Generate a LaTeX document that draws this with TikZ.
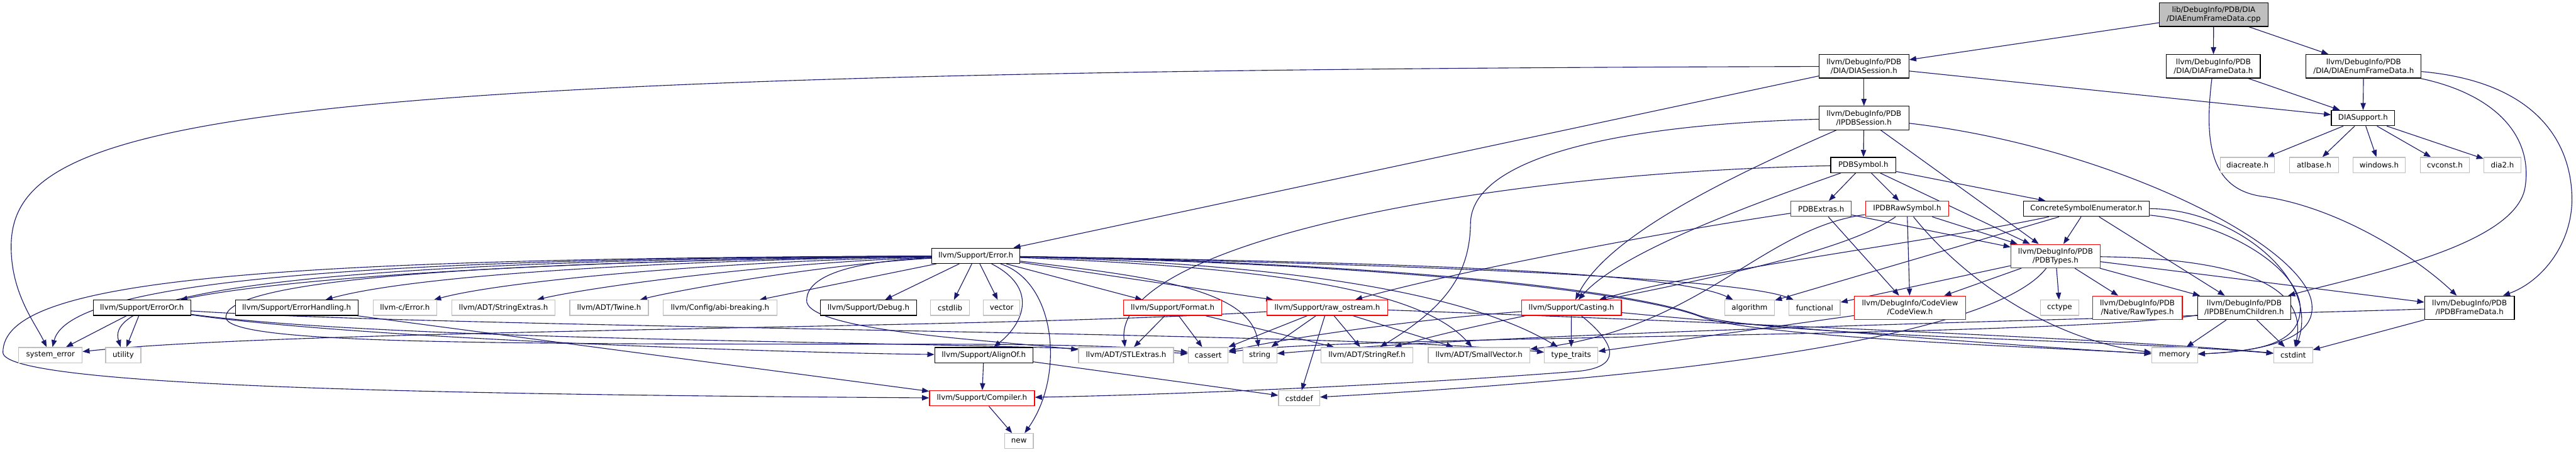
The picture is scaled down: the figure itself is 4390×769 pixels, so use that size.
\documentclass[tikz,border=0pt]{standalone}
\usepackage{fontspec}
\newfontfamily\labfont{DejaVu Sans}
\usetikzlibrary{arrows.meta}
\definecolor{edgec}{HTML}{191970}
\definecolor{leafc}{HTML}{BFBFBF}
\definecolor{rootc}{HTML}{BFBFBF}
\pgfdeclarelayer{bg}
\pgfsetlayers{bg,main}
\tikzset{
  base/.style={rectangle, inner sep=0pt, line width=1.3pt, fill=white,
    font=\labfont\fontsize{12.7}{15}\selectfont, align=center, minimum height=26pt},
  doc/.style={base, draw=black},
  leaf/.style={base, draw=leafc},
  trunc/.style={base, draw=red},
  root/.style={base, draw=black, fill=rootc},
  two/.style={minimum height=40pt},
  e/.style={draw=edgec, line width=1.2pt, -{Triangle[length=12pt,width=9pt]}},
}
\begin{document}
\begin{tikzpicture}[x=1pt,y=-1pt]
\useasboundingbox (0,0) rectangle (4390,769);
% row 0-3
\node[root,two,minimum width=185pt] (cpp) at (3772.5,25) {lib/DebugInfo/PDB/DIA\\/DIAEnumFrameData.cpp};
\node[doc,two,minimum width=153pt] (diasess) at (3176.5,113) {llvm/DebugInfo/PDB\\/DIA/DIASession.h};
\node[doc,two,minimum width=160pt] (diaframe) at (3772,113) {llvm/DebugInfo/PDB\\/DIA/DIAFrameData.h};
\node[doc,two,minimum width=196pt] (diaenum) at (4028,113) {llvm/DebugInfo/PDB\\/DIA/DIAEnumFrameData.h};
\node[doc,two,minimum width=153pt] (ipdbsess) at (3176.5,201) {llvm/DebugInfo/PDB\\/IPDBSession.h};
\node[doc,minimum width=108pt] (diasupport) at (4027,201) {DIASupport.h};
\node[doc,minimum width=111pt] (pdbsymbol) at (3175.5,281) {PDBSymbol.h};
\node[leaf,minimum width=92pt] (diacreate) at (3830,281) {diacreate.h};
\node[leaf,minimum width=83pt] (atlbase) at (3943.5,281) {atlbase.h};
\node[leaf,minimum width=89pt] (windows) at (4054.5,281) {windows.h};
\node[leaf,minimum width=83pt] (cvconst) at (4166.5,281) {cvconst.h};
\node[leaf,minimum width=63pt] (dia2) at (4264.5,281) {dia2.h};
% row 4-5
\node[trunc,minimum width=103pt] (pdbextras) at (3103.5,355.5) {PDBExtras.h};
\node[trunc,minimum width=142pt] (ipdbraw) at (3250,355.5) {IPDBRawSymbol.h};
\node[doc,minimum width=215pt] (concrete) at (3555.5,355.5) {ConcreteSymbolEnumerator.h};
\node[doc,minimum width=150pt] (error) at (1663,435.5) {llvm/Support/Error.h};
\node[trunc,two,minimum width=152pt] (pdbtypes) at (3503,436) {llvm/DebugInfo/PDB\\/PDBTypes.h};
% row 6
\node[doc,minimum width=166pt] (erroror) at (242,524) {llvm/Support/ErrorOr.h};
\node[doc,minimum width=209pt] (errhandling) at (505.5,524) {llvm/Support/ErrorHandling.h};
\node[leaf,minimum width=108pt] (cerror) at (690,524) {llvm-c/Error.h};
\node[leaf,minimum width=176pt] (strextras) at (858,524) {llvm/ADT/StringExtras.h};
\node[leaf,minimum width=134pt] (twine) at (1038,524) {llvm/ADT/Twine.h};
\node[leaf,minimum width=194pt] (abi) at (1227,524) {llvm/Config/abi-breaking.h};
\node[doc,minimum width=164pt] (debug) at (1480,524) {llvm/Support/Debug.h};
\node[leaf,minimum width=66pt] (cstdlib) at (1619,524) {cstdlib};
\node[leaf,minimum width=62pt] (vector) at (1707,524) {vector};
\node[trunc,minimum width=167pt] (format) at (1998.5,524) {llvm/Support/Format.h};
\node[trunc,minimum width=206pt] (rawostream) at (2262,524) {llvm/Support/raw\_ostream.h};
\node[trunc,minimum width=170pt] (casting) at (2678,524) {llvm/Support/Casting.h};
\node[leaf,minimum width=85pt] (algorithm) at (2981.5,524) {algorithm};
\node[leaf,minimum width=87pt] (functional) at (3092.5,524) {functional};
\node[trunc,two,minimum width=190pt] (codeview) at (3255,524) {llvm/DebugInfo/CodeView\\/CodeView.h};
\node[leaf,minimum width=66pt] (cctype) at (3510,524) {cctype};
\node[trunc,two,minimum width=153pt] (rawtypes) at (3642.5,524) {llvm/DebugInfo/PDB\\/Native/RawTypes.h};
\node[doc,two,minimum width=159pt] (enumchildren) at (3824.5,524) {llvm/DebugInfo/PDB\\/IPDBEnumChildren.h};
\node[doc,two,minimum width=153pt] (ipdbframe) at (4208.5,524) {llvm/DebugInfo/PDB\\/IPDBFrameData.h};
% row 7
\node[leaf,minimum width=108pt] (syserror) at (86,604.5) {system\_error};
\node[leaf,minimum width=60pt] (utility) at (210,604.5) {utility};
\node[doc,minimum width=167pt] (alignof) at (1676.5,604.5) {llvm/Support/AlignOf.h};
\node[leaf,minimum width=162pt] (stlextras) at (1919,604.5) {llvm/ADT/STLExtras.h};
\node[leaf,minimum width=68pt] (cassert) at (2059,604.5) {cassert};
\node[leaf,minimum width=58pt] (string) at (2147,604.5) {string};
\node[leaf,minimum width=157pt] (stringref) at (2329.5,604.5) {llvm/ADT/StringRef.h};
\node[leaf,minimum width=173pt] (smallvector) at (2520.5,604.5) {llvm/ADT/SmallVector.h};
\node[leaf,minimum width=91pt] (typetraits) at (2677.5,604.5) {type\_traits};
\node[leaf,minimum width=78pt] (memory) at (3706,604.5) {memory};
\node[leaf,minimum width=66pt] (cstdint) at (3908,604.5) {cstdint};
% row 8-9
\node[trunc,minimum width=179pt] (compiler) at (1673.5,678) {llvm/Support/Compiler.h};
\node[leaf,minimum width=70pt] (cstddef) at (2214,678) {cstddef};
\node[leaf,minimum width=49pt] (new) at (1736.5,751) {new};

\begin{pgfonlayer}{bg}
\fill[white] (0,0) rectangle (4390,769);
% top part
\draw[e] (cpp) -- (diasess);
\draw[e] (cpp) -- (diaframe);
\draw[e] (cpp) -- (diaenum);
\draw[e] (diasess) -- (diasupport);
\draw[e] (diasess) -- (ipdbsess);
\draw[e] (diasess) -- (error);
\draw[e] (diasess) .. controls (400,120) and (19,200) .. (19,420) .. controls (19,500) and (60,550) .. (syserror);
\draw[e] (diaframe) -- (diasupport);
\draw[e] (diaframe) .. controls (3755,250) and (3770,325) .. (3860,335) .. controls (3990,355) and (4120,440) .. (ipdbframe);
\draw[e] (diaenum) -- (diasupport);
\draw[e] (diaenum) .. controls (4250,160) and (4318,230) .. (4303,320) .. controls (4285,420) and (4020,470) .. (enumchildren);
\draw[e] (diaenum) .. controls (4330,140) and (4385,250) .. (4383,345) .. controls (4380,420) and (4330,480) .. (ipdbframe);
\foreach \t in {diacreate,atlbase,windows,cvconst,dia2} \draw[e] (diasupport) -- (\t);
% IPDBSession
\draw[e] (ipdbsess) -- (pdbsymbol);
\draw[e] (ipdbsess) -- (pdbtypes);
\draw[e] (ipdbsess) .. controls (2950,300) and (2740,400) .. (casting);
\draw[e] (ipdbsess) .. controls (2750,212) and (2508,270) .. (2506,380) .. controls (2505,470) and (2460,525) .. (stringref);
\draw[e] (ipdbsess) .. controls (3600,250) and (3935,420) .. (3940,520) .. controls (3945,580) and (3850,598) .. (memory);
% PDBSymbol
\draw[e] (pdbsymbol) -- (pdbextras);
\draw[e] (pdbsymbol) -- (ipdbraw);
\draw[e] (pdbsymbol) -- (pdbtypes);
\draw[e] (pdbsymbol) -- (concrete);
\draw[e] (pdbsymbol) .. controls (2980,350) and (2760,430) .. (casting);
\draw[e] (pdbsymbol) .. controls (2500,295) and (1895,420) .. (stlextras);
% PDBExtras
\draw[e] (pdbextras) -- (codeview);
\draw[e] (pdbextras) -- (pdbtypes);
\draw[e] (pdbextras) .. controls (2800,400) and (2450,470) .. (rawostream);
% IPDBRawSymbol
\draw[e] (ipdbraw) -- (codeview);
\draw[e] (ipdbraw) -- (pdbtypes);
\draw[e] (ipdbraw) .. controls (3350,480) and (3500,580) .. (memory);
\draw[e] (ipdbraw) .. controls (3000,390) and (2900,560) .. (smallvector);
\draw[e] (ipdbraw) .. controls (3100,460) and (2620,520) .. (stringref);
% ConcreteSymbolEnumerator
\draw[e] (concrete) -- (pdbtypes);
\draw[e] (concrete) -- (enumchildren);
\draw[e] (concrete) -- (algorithm);
\draw[e] (concrete) .. controls (3300,410) and (2900,460) .. (casting);
\draw[e] (concrete) .. controls (3800,380) and (3920,460) .. (3920,525) .. controls (3920,585) and (3850,598) .. (memory);
\draw[e] (concrete) .. controls (3800,355) and (3955,470) .. (cstdint);
% PDBTypes
\draw[e] (pdbtypes) -- (functional);
\draw[e] (pdbtypes) -- (codeview);
\draw[e] (pdbtypes) -- (cctype);
\draw[e] (pdbtypes) -- (rawtypes);
\draw[e] (pdbtypes) -- (enumchildren);
\draw[e] (pdbtypes) -- (ipdbframe);
\draw[e] (pdbtypes) .. controls (3400,570) and (2900,640) .. (cstddef);
\draw[e] (pdbtypes) .. controls (3800,440) and (3935,480) .. (cstdint);
% CodeView, EnumChildren, FrameData
\draw[e] (codeview) -- (typetraits);
\draw[e] (enumchildren) -- (memory);
\draw[e] (enumchildren) -- (cstdint);
\draw[e] (enumchildren) .. controls (3500,575) and (2300,570) .. (cassert);
\draw[e] (ipdbframe) -- (cstdint);
\draw[e] (ipdbframe) .. controls (3500,545) and (2600,565) .. (string);
% Casting
\draw[e] (casting) -- (typetraits);
\draw[e] (casting) .. controls (2400,545) and (2200,575) .. (cassert);
\draw[e] (casting) .. controls (2760,590) and (2760,625) .. (2690,632) .. controls (2400,655) and (2000,672) .. (compiler);
\draw[e] (casting) .. controls (3000,555) and (3450,590) .. (memory);
% raw_ostream
\draw[e] (rawostream) -- (cassert);
\draw[e] (rawostream) -- (string);
\draw[e] (rawostream) -- (stringref);
\draw[e] (rawostream) -- (smallvector);
\draw[e] (rawostream) -- (cstddef);
\draw[e] (rawostream) .. controls (1700,560) and (500,560) .. (syserror);
\draw[e] (rawostream) .. controls (2700,540) and (3600,575) .. (cstdint);
% Format
\draw[e] (format) -- (stlextras);
\draw[e] (format) -- (cassert);
\draw[e] (format) -- (stringref);
% Error.h
\draw[e] (error) -- (abi);
\draw[e] (error) -- (debug);
\draw[e] (error) -- (cstdlib);
\draw[e] (error) -- (vector);
\draw[e] (error) -- (format);
\draw[e] (error) -- (rawostream);
\draw[e] (error) .. controls (1400,450) and (1150,495) .. (twine);
\draw[e] (error) .. controls (1300,448) and (1000,490) .. (strextras);
\draw[e] (error) .. controls (1200,446) and (850,480) .. (cerror);
\draw[e] (error) .. controls (1100,444) and (700,470) .. (errhandling);
\draw[e] (error) .. controls (1000,442) and (500,470) .. (erroror);
\draw[e] (error) .. controls (700,440) and (120,470) .. (syserror);
\draw[e] (error) .. controls (700,442) and (170,480) .. (utility);
\draw[e] (error) .. controls (400,440) and (5,480) .. (5,600) .. controls (5,660) and (800,672) .. (compiler);
\draw[e] (error) .. controls (900,445) and (385,470) .. (385,540) .. controls (385,585) and (800,586) .. (1580,586) .. controls (1800,586) and (1950,590) .. (cassert);
\draw[e] (error) .. controls (1450,445) and (1370,470) .. (1375,515) .. controls (1390,565) and (1700,580) .. (stlextras);
\draw[e] (error) .. controls (1950,470) and (2130,490) .. (string);
\draw[e] (error) .. controls (2150,455) and (2420,490) .. (smallvector);
\draw[e] (error) .. controls (2250,450) and (2520,510) .. (typetraits);
\draw[e] (error) .. controls (2300,445) and (2850,460) .. (algorithm);
\draw[e] (error) .. controls (2300,447) and (2950,470) .. (functional);
\draw[e] (error) .. controls (2400,450) and (2800,500) .. (2900,540) .. controls (3000,575) and (3500,592) .. (memory);
\draw[e] (error) .. controls (2400,448) and (2790,497) .. (2895,537) .. controls (3000,572) and (3600,578) .. (cstdint);
\draw[e] (error) .. controls (1770,490) and (1745,550) .. (alignof);
\draw[e] (error) .. controls (1800,480) and (1815,640) .. (new);
% ErrorOr and others
\draw[e] (erroror) -- (syserror);
\draw[e] (erroror) -- (utility);
\draw[e] (erroror) .. controls (600,575) and (1300,600) .. (alignof);
\draw[e] (erroror) .. controls (700,585) and (1700,580) .. (cassert);
\draw[e] (erroror) .. controls (800,560) and (2300,565) .. (typetraits);
\draw[e] (errhandling) -- (compiler);
\draw[e] (alignof) -- (compiler);
\draw[e] (alignof) -- (cstddef);
\draw[e] (compiler) -- (new);
\end{pgfonlayer}
\end{tikzpicture}
\end{document}
